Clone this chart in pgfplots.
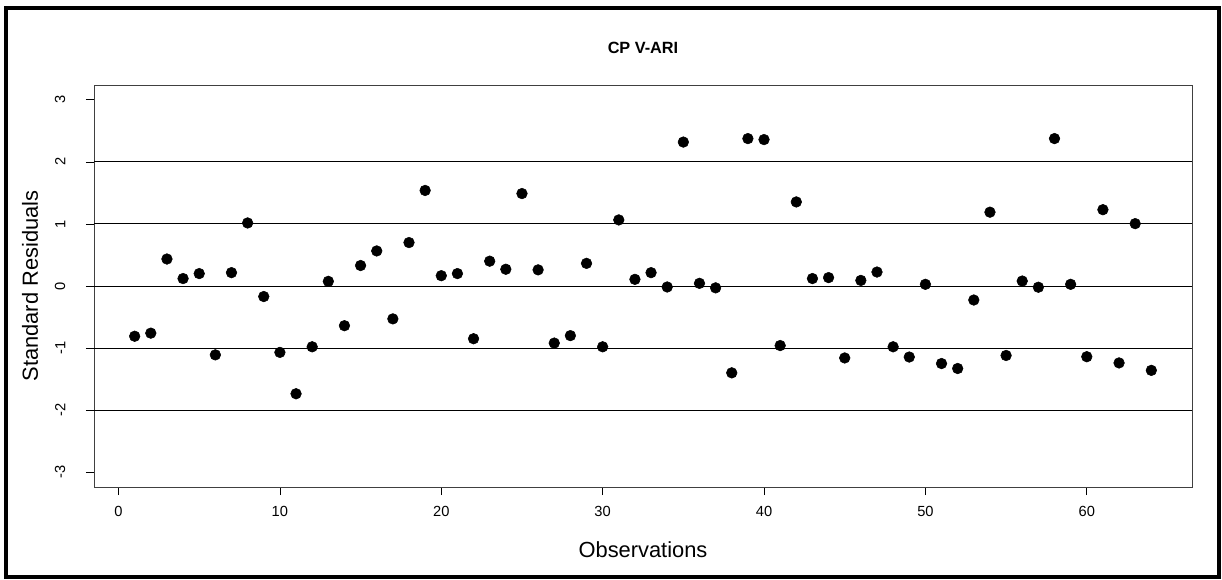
\documentclass[border=0pt]{standalone}
\usepackage{fontspec}
\setmainfont{Liberation Sans}
\usepackage{pgfplots}
\pgfplotsset{compat=1.18}
\begin{document}
\begin{tikzpicture}
\useasboundingbox (0,0) rectangle (916.5pt,434.25pt);
\draw[line width=3pt] (4.5pt,1.3pt) rectangle (914.6pt,428.6pt);
\begin{axis}[
  at={(70.5pt,69pt)}, anchor=south west,
  scale only axis, width=823.5pt, height=301.5pt,
  xmin=-1.52, xmax=66.52, ymin=-3.24, ymax=3.24,
  xtick={0,10,...,60}, ytick={-3,-2,...,3},
  tick align=outside, major tick length=6pt,
  tick style={black, line width=0.6pt},
  axis line style={black!75, line width=0.6pt},
  xtick pos=bottom, ytick pos=left,
  /pgf/number format/assume math mode=true,
  ticklabel style={font=\fontsize{11}{13}\selectfont},
  yticklabel style={rotate=90, anchor=south},
  yticklabel shift=12pt,
  xticklabel shift=5pt,
  extra y ticks={-2,-1,0,1,2},
  extra y tick labels={},
  extra y tick style={ymajorgrids=true, major tick length=0pt, major grid style={black, line width=0.7pt}},
  xlabel={Observations}, ylabel={Standard Residuals},
  label style={font=\fontsize{16.4}{18}\selectfont},
  xlabel style={at={(axis description cs:0.5,-0.1567)}, anchor=center},
  ylabel style={at={(axis description cs:-0.0583,0.5)}, anchor=center, rotate=0},
  title={CP V-ARI},
  title style={at={(axis description cs:0.5,1.073)}, anchor=center, font=\fontsize{12.2}{14}\selectfont\bfseries},
]
\addplot[only marks, mark=*, mark size=4pt, black] coordinates {
(1,-0.81) (2,-0.76) (3,0.435) (4,0.12) (5,0.20) (6,-1.11) (7,0.215) (8,1.016)
(9,-0.17) (10,-1.07) (11,-1.737) (12,-0.98) (13,0.075) (14,-0.64) (15,0.33) (16,0.565)
(17,-0.53) (18,0.70) (19,1.54) (20,0.166) (21,0.20) (22,-0.85) (23,0.40) (24,0.27)
(25,1.49) (26,0.26) (27,-0.92) (28,-0.80) (29,0.365) (30,-0.98) (31,1.065) (32,0.107)
(33,0.215) (34,-0.016) (35,2.32) (36,0.043) (37,-0.03) (38,-1.40) (39,2.376) (40,2.36)
(41,-0.96) (42,1.355) (43,0.12) (44,0.135) (45,-1.16) (46,0.09) (47,0.225) (48,-0.98)
(49,-1.145) (50,0.027) (51,-1.25) (52,-1.33) (53,-0.226) (54,1.19) (55,-1.12) (56,0.08)
(57,-0.02) (58,2.376) (59,0.027) (60,-1.14) (61,1.23) (62,-1.24) (63,1.005) (64,-1.36)
};
\end{axis}
\end{tikzpicture}
\end{document}
